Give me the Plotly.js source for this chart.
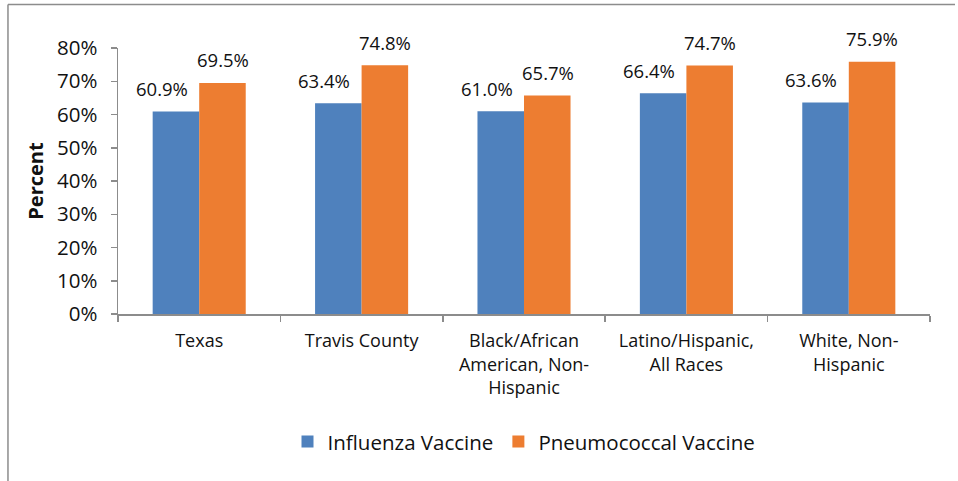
<!DOCTYPE html>
<html>
<head>
<meta charset="utf-8">
<script src="https://cdn.plot.ly/plotly-3.0.1.min.js"></script>
<style>html,body{margin:0;padding:0;background:#fff;}#chart{width:958px;height:481px;}</style>
</head>
<body>
<div id="chart"></div>
<script>
var categories = ["Texas", "Travis County", "Black/African<br>American, Non-<br>Hispanic", "Latino/Hispanic,<br>All Races", "White, Non-<br>Hispanic"];
var influenza = [0.609, 0.634, 0.610, 0.664, 0.636];
var pneumococcal = [0.695, 0.748, 0.657, 0.747, 0.759];
var influenzaLabels = ["60.9%", "63.4%", "61.0%", "66.4%", "63.6%"];
var pneumococcalLabels = ["69.5%", "74.8%", "65.7%", "74.7%", "75.9%"];
var yTicks = [0, 0.1, 0.2, 0.3, 0.4, 0.5, 0.6, 0.7, 0.8];
var yTickLabels = ["0%", "10%", "20%", "30%", "40%", "50%", "60%", "70%", "80%"];

var FONT = "'Open Sans', sans-serif";
var traces = [
  {type: "bar", name: "Influenza Vaccine", x: categories, y: influenza,
   marker: {color: "#4F81BD"}, hoverinfo: "none"},
  {type: "bar", name: "Pneumococcal Vaccine", x: categories, y: pneumococcal,
   marker: {color: "#ED7D31"}, hoverinfo: "none"}
];

var annotations = [];
categories.forEach(function (c, i) {
  annotations.push({x: c, y: influenza[i], text: influenzaLabels[i], showarrow: false,
    xref: "x", yref: "y", xanchor: "center", yanchor: "middle", xshift: -37.5, yshift: 23,
    font: {family: FONT, size: 18.5, color: "#111"}});
  annotations.push({x: c, y: pneumococcal[i], text: pneumococcalLabels[i], showarrow: false,
    xref: "x", yref: "y", xanchor: "center", yanchor: "middle", xshift: 23.5, yshift: 23,
    font: {family: FONT, size: 18.5, color: "#111"}});
});

var layout = {
  width: 958, height: 481,
  margin: {l: 118, r: 28, t: 47.5, b: 167, pad: 0},
  paper_bgcolor: "#ffffff", plot_bgcolor: "#ffffff",
  font: {family: FONT, color: "#111"},
  barmode: "group", bargap: 0.427, bargroupgap: 0,
  showlegend: true,
  legend: {orientation: "h", x: 0.5, xanchor: "center", y: -0.48, yanchor: "middle",
    font: {family: FONT, size: 20.5, color: "#111"}, itemwidth: 30, traceorder: "normal"},
  xaxis: {type: "category", showline: true, linecolor: "#8c8c8c", linewidth: 1.5,
    ticks: "outside", tickson: "boundaries", ticklen: 6, tickcolor: "#8c8c8c", tickwidth: 1.5,
    tickfont: {family: FONT, size: 18, color: "#111"}, showgrid: false, zeroline: false,
    ticklabelstandoff: 10, fixedrange: true},
  yaxis: {range: [0, 0.8], tickvals: yTicks, ticktext: yTickLabels, showline: true,
    linecolor: "#8c8c8c", linewidth: 1.5, ticks: "outside", ticklen: 6, tickcolor: "#8c8c8c",
    tickwidth: 1.5, showgrid: false, zeroline: false,
    tickfont: {family: FONT, size: 20.5, color: "#111"}, ticklabelstandoff: 9,
    title: {text: "<b>Percent</b>", font: {family: FONT, size: 20, color: "#111"}, standoff: 8},
    fixedrange: true},
  annotations: annotations,
  shapes: [
    {type: "line", xref: "paper", yref: "paper", x0: -0.1355, x1: 1.0308, y0: 1.1632, y1: 1.1632,
     line: {color: "#8c8c8c", width: 1.5}},
    {type: "line", xref: "paper", yref: "paper", x0: -0.1355, x1: -0.1355, y0: 1.1632, y1: -0.64,
     line: {color: "#8c8c8c", width: 1.5}}
  ]
};

Plotly.newPlot("chart", traces, layout, {staticPlot: true, displayModeBar: false});
</script>
</body>
</html>
